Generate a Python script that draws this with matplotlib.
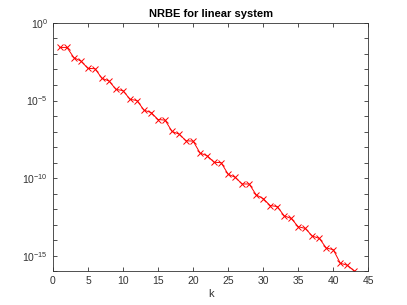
import matplotlib
matplotlib.use("Agg")
import matplotlib.pyplot as plt
import numpy as np

# iteration index and log10 of the NRBE
k = np.arange(1, 44)
log_nrbe = [-1.58, -1.58, -2.24, -2.46, -2.93, -2.95, -3.57, -3.74, -4.28, -4.36,
            -4.92, -5.00, -5.62, -5.77, -6.22, -6.26, -6.99, -7.16, -7.59, -7.61,
            -8.38, -8.55, -8.97, -9.00, -9.74, -9.94, -10.37, -10.37, -11.07, -11.31,
            -11.76, -11.82, -12.42, -12.59, -13.12, -13.23, -13.72, -13.87, -14.49, -14.60,
            -15.47, -15.60, -15.96]
nrbe = 10.0 ** np.array(log_nrbe)

xticks = [0, 5, 10, 15, 20, 25, 30, 35, 40, 45]
ylabel_exps = [0, -5, -10, -15]

plt.rcParams['font.family'] = ['Liberation Sans', 'DejaVu Sans']
plt.rcParams['mathtext.fontset'] = 'custom'
plt.rcParams['mathtext.rm'] = 'Liberation Sans'

fig = plt.figure(figsize=(4.07, 3.05), dpi=100)
ax = fig.add_axes([0.13, 0.11, 0.775, 0.815])

ax.semilogy(k, nrbe, color='red', marker='x', markersize=4, lw=0.7, mew=0.7)

ax.set_xlim(0, 45)
ax.set_ylim(1e-16, 1)
ax.set_xticks(xticks)
ax.set_xticklabels([str(t) for t in xticks])

# tick every decade, label every fifth
ax.set_yticks([10.0 ** e for e in range(0, -17, -1)])
ax.set_yticklabels(['$10^{%d}$' % e if e in ylabel_exps else '' for e in range(0, -17, -1)])
ax.minorticks_off()

ax.tick_params(direction='in', top=True, right=True, length=3, width=0.6,
               colors='#333333', labelsize=7.5, labelcolor='#333333')
for s in ax.spines.values():
    s.set_color('#333333')
    s.set_linewidth(0.6)

ax.set_title("NRBE for linear system", fontsize=8, fontweight='bold', pad=4)
ax.set_xlabel("k", fontsize=8, color='#333333', labelpad=2)

fig.savefig("out.png", dpi=100)
